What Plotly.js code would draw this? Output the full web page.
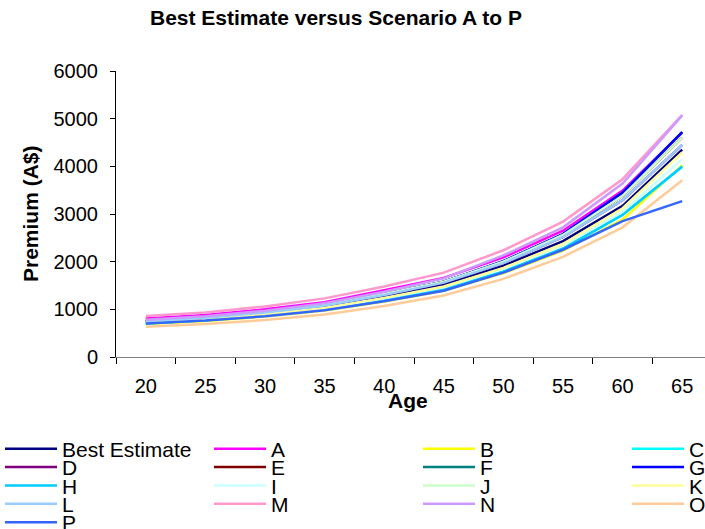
<!DOCTYPE html>
<html>
<head>
<meta charset="utf-8">
<script src="https://cdn.plot.ly/plotly-3.0.1.min.js"></script>
<style>
html, body { margin: 0; padding: 0; overflow: hidden; background: #fff; }
#chart { width: 712px; height: 529px; }
</style>
</head>
<body>
<div id="chart"></div>
<script>
// Ages (category axis)
const ages = ['20', '25', '30', '35', '40', '45', '50', '55', '60', '65'];

// Series values (Premium, A$)
const bestEstimate = [735, 800, 905, 1050, 1265, 1515, 1915, 2430, 3170, 4350];
const scenA = [810, 880, 1000, 1150, 1400, 1660, 2090, 2650, 3490, 4710];
const scenB = [690, 755, 850, 975, 1165, 1390, 1760, 2230, 2880, 4020];
const scenC = [705, 770, 865, 995, 1190, 1420, 1790, 2270, 2980, 3990];
const scenD = [755, 825, 935, 1080, 1300, 1560, 1970, 2520, 3290, 4450];
const scenE = [760, 830, 940, 1090, 1320, 1580, 2000, 2560, 3380, 4600];
const scenF = [745, 815, 925, 1080, 1310, 1580, 2010, 2580, 3450, 4720];
const scenG = [745, 815, 925, 1080, 1310, 1580, 2010, 2580, 3450, 4720];
const scenH = [708, 773, 868, 998, 1193, 1424, 1795, 2276, 2985, 3995];
const scenI = [725, 790, 890, 1025, 1230, 1465, 1850, 2340, 3050, 4150];
const scenJ = [760, 830, 940, 1090, 1320, 1580, 2000, 2560, 3380, 4600];
const scenK = [720, 790, 890, 1030, 1240, 1480, 1870, 2370, 3120, 4290];
const scenL = [755, 825, 935, 1080, 1300, 1560, 1970, 2520, 3290, 4450];
const scenM = [860, 935, 1060, 1230, 1480, 1770, 2240, 2840, 3730, 5080];
const scenN = [780, 855, 970, 1130, 1370, 1650, 2130, 2720, 3640, 5070];
const scenO = [636, 690, 775, 890, 1070, 1290, 1640, 2100, 2720, 3710];
const scenP = [705, 765, 855, 980, 1170, 1390, 1770, 2250, 2850, 3270];

const seriesNames = ['Best Estimate', 'A', 'B', 'C', 'D', 'E', 'F', 'G', 'H', 'I', 'J', 'K', 'L', 'M', 'N', 'O', 'P'];
const seriesValues = [bestEstimate, scenA, scenB, scenC, scenD, scenE, scenF, scenG, scenH, scenI, scenJ, scenK, scenL, scenM, scenN, scenO, scenP];
const seriesColors = ['#000080', '#FF00FF', '#FFFF00', '#00FFFF', '#800080', '#800000', '#008080', '#0000FF',
                      '#00CCFF', '#CCFFFF', '#CCFFCC', '#FFFF99', '#99CCFF', '#FF99CC', '#CC99FF', '#FFCC99', '#3366FF'];

// plot-area geometry in pixels
const PL = 116, PR = 712, PT = 71, PB = 357;
const PW = PR - PL, PH = PB - PT;
const px2x = p => (p - PL) / PW;
const px2y = p => (PB - p) / PH;

const FONT = 'Liberation Sans, Arial, sans-serif';

const traces = [];
const layout = {
  width: 712, height: 529,
  margin: {l: PL, r: 712 - PR, t: PT, b: 529 - PB, pad: 0, autoexpand: false},
  paper_bgcolor: '#ffffff',
  plot_bgcolor: '#ffffff',
  font: {family: FONT, color: '#000000', size: 20},
  showlegend: true,
  xaxis: {
    type: 'category',
    range: [-0.5, 9.5],
    showgrid: false, zeroline: false,
    showline: true, linecolor: '#808080', linewidth: 1,
    ticks: 'outside', tickson: 'boundaries', ticklen: 6, tickcolor: '#000000', tickwidth: 1,
    tickfont: {family: FONT, size: 20, color: '#000000'},
    ticklabelstandoff: 11,
    fixedrange: true
  },
  yaxis: {
    range: [0, 6000], dtick: 1000, tick0: 0,
    showgrid: false, zeroline: false,
    showline: true, linecolor: '#000000', linewidth: 1,
    ticks: 'outside', ticklen: 5, tickcolor: '#000000', tickwidth: 1,
    tickfont: {family: FONT, size: 20, color: '#000000'},
    ticklabelstandoff: 8,
    fixedrange: true
  },
  annotations: [
    {text: '<b>Best Estimate versus Scenario A to P</b>', xref: 'paper', yref: 'paper',
     x: px2x(336), y: px2y(17), xanchor: 'center', yanchor: 'middle', showarrow: false,
     font: {family: FONT, size: 21, color: '#000000'}},
    {text: '<b>Premium (A$)</b>', xref: 'paper', yref: 'paper', textangle: -90,
     x: px2x(30), y: px2y(213), xanchor: 'center', yanchor: 'middle', showarrow: false,
     font: {family: FONT, size: 21, color: '#000000'}},
    {text: '<b>Age</b>', xref: 'paper', yref: 'paper',
     x: px2x(408), y: px2y(401), xanchor: 'center', yanchor: 'middle', showarrow: false,
     font: {family: FONT, size: 21, color: '#000000'}}
  ]
};

// legend grid: 4 columns, rows of 18.4 px
const colX = [0, 209, 418, 627];
const rowY = [449, 467.4, 485.8, 504.2, 522.6];

seriesNames.forEach((name, i) => {
  const lid = i === 0 ? 'legend' : 'legend' + (i + 1);
  traces.push({
    type: 'scatter', mode: 'lines',
    x: ages, y: seriesValues[i], name: name,
    line: {color: seriesColors[i], width: 2.5},
    legend: lid,
    hoverinfo: 'skip'
  });
  const col = i % 4, row = Math.floor(i / 4);
  layout[lid] = {
    x: px2x(colX[col]), y: px2y(rowY[row]),
    xanchor: 'left', yanchor: 'middle',
    orientation: 'h',
    bgcolor: 'rgba(0,0,0,0)', borderwidth: 0,
    itemwidth: 52,
    font: {family: FONT, size: 21, color: '#000000'},
    itemclick: false, itemdoubleclick: false
  };
});

Plotly.newPlot('chart', traces, layout, {displayModeBar: false, staticPlot: true});
</script>
</body>
</html>
